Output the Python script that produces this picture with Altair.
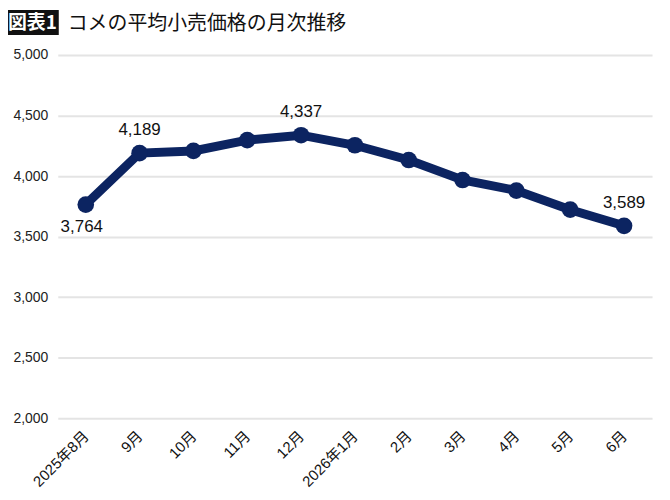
import altair as alt
import pandas as pd

months = ["2025年8月", "9月", "10月", "11月", "12月", "2026年1月", "2月", "3月", "4月", "5月", "6月"]
prices = [3764, 4189, 4207, 4296, 4337, 4254, 4132, 3967, 3880, 3722, 3589]
labels_above = ["9月", "12月", "6月"]
labels_below = ["2025年8月"]
badge = "図表1"
title_text = "コメの平均小売価格の月次推移"
y_ticks = [2000, 2500, 3000, 3500, 4000, 4500, 5000]

df = pd.DataFrame({"month": months, "price": prices})
NAVY = "#0c2461"
FONT = "Liberation Sans, Noto Sans CJK JP"

x_enc = alt.X("month:N", sort=months,
              scale=alt.Scale(type="point", padding=0.52),
              axis=alt.Axis(title=None, labelAngle=315, labelAlign="right", labelBaseline="middle",
                            labelFontSize=15, labelColor="#111", labelFont=FONT,
                            labelPadding=15, domain=False, ticks=False, grid=False))
y_enc = alt.Y("price:Q", scale=alt.Scale(domain=[2000, 5000], nice=False, zero=False),
              axis=alt.Axis(title=None, values=y_ticks,
                            labelExpr="format(datum.value, ',d')", labelFontSize=14,
                            labelColor="#222", labelFont=FONT, labelPadding=10,
                            domain=False, ticks=False, grid=True,
                            gridColor="#e4e4e4", gridWidth=2))

base = alt.Chart(df)
line = base.mark_line(color=NAVY, strokeWidth=9).encode(x=x_enc, y=y_enc)
pts = base.mark_circle(color=NAVY, size=280, opacity=1).encode(x=x_enc, y=y_enc)

txt_above = base.transform_filter(
    alt.FieldOneOfPredicate(field="month", oneOf=labels_above)
).mark_text(fontSize=17, font=FONT, color="#111", dy=-23).encode(
    x=x_enc, y=y_enc, text=alt.Text("price:Q", format=",d"))
txt_below = base.transform_filter(
    alt.FieldOneOfPredicate(field="month", oneOf=labels_below)
).mark_text(fontSize=17, font=FONT, color="#111", dy=23, dx=-4).encode(
    x=x_enc, y=y_enc, text=alt.Text("price:Q", format=",d"))

tdf = pd.DataFrame({"badge": [badge], "title": [title_text]})
tb = alt.Chart(tdf)
box = tb.mark_rule(color="#111", strokeWidth=25, strokeCap="butt").encode(
    x=alt.value(-52), x2=alt.value(1), y=alt.value(-32.5))
badge_txt = tb.mark_text(color="white", fontSize=19, fontWeight="bold",
                         font="Noto Sans CJK JP", align="center", baseline="middle").encode(
    x=alt.value(-25.5), y=alt.value(-32), text="badge:N")
title_mark = tb.mark_text(color="#111", fontSize=20, font="Noto Sans CJK JP",
                          align="left", baseline="middle").encode(
    x=alt.value(10), y=alt.value(-31), text="title:N")

chart = alt.layer(line, pts, txt_above, txt_below, box, badge_txt, title_mark).properties(
    width=597, height=365,
    autosize=alt.AutoSizeParams(type="none"),
    padding={"left": 50, "top": 46, "right": 10, "bottom": 80},
).configure(font=FONT).configure_view(
    stroke="transparent", strokeWidth=0
).configure_axis(
    domain=False, ticks=False
)

chart.save("out.html", embed_options={"renderer": "svg", "actions": False})
